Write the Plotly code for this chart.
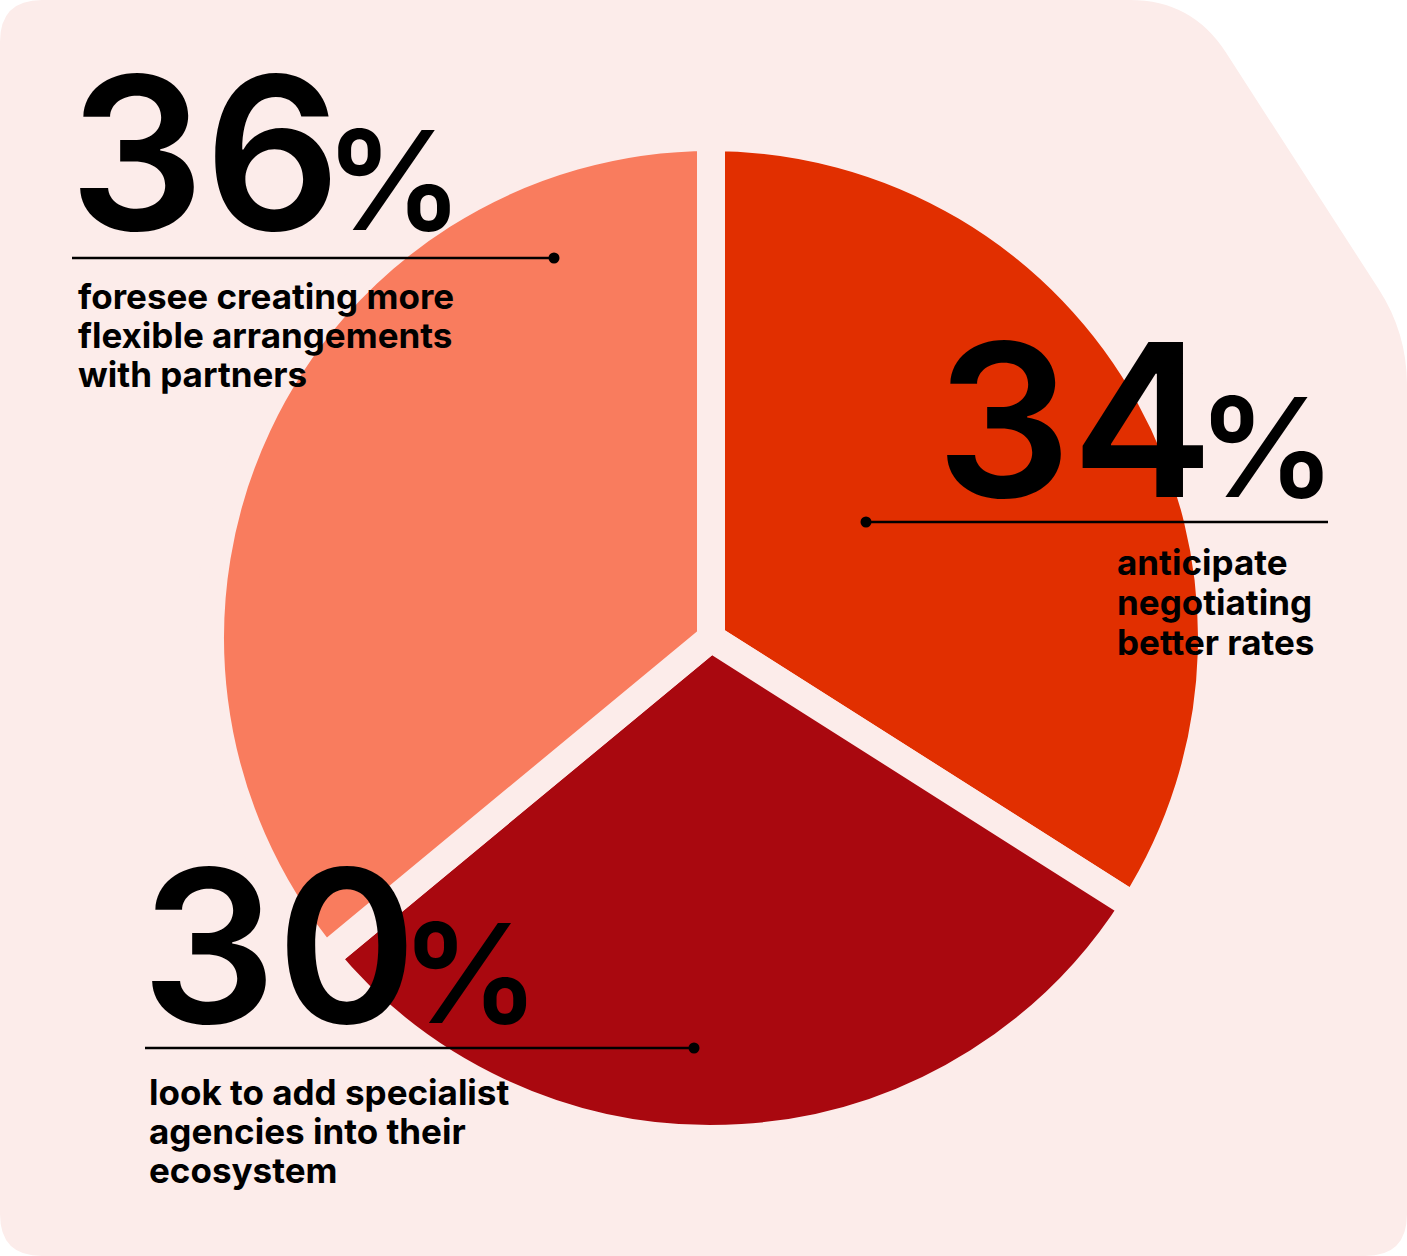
import plotly.graph_objects as go

W, H = 1407, 1256

# Shares, listed in the order the slices run clockwise from 12 o'clock
labels = ["negotiating better rates", "specialist agencies", "flexible arrangements"]
values = [34, 30, 36]
colors = ["#E12F00", "#A9080F", "#F97C5E"]

# Caption lines shown under each percentage
descriptions = [
    ["anticipate", "negotiating", "better rates"],
    ["look to add specialist", "agencies into their", "ecosystem"],
    ["foresee creating more", "flexible arrangements", "with partners"],
]

BG = "#FCECEA"
FONT = "Inter"

# Callout placement in pixels: number left edge / baseline, leader line, caption
callouts = [
    dict(nx=936, nbase=497, ly=522, lx0=866, lx1=1328, dot="left", tx=1117, tbase=[575, 615, 655]),
    dict(nx=141, nbase=1023, ly=1048, lx0=145, lx1=694, dot="right", tx=149, tbase=[1105, 1144, 1183]),
    dict(nx=69, nbase=230, ly=258, lx0=72, lx1=554, dot="right", tx=78, tbase=[309, 348, 387]),
]


def px(x):
    return x / W


def py(y):
    return 1 - y / H


# Pie geometry (pixels)
cx, cy, r = 711, 638, 501
gap = 28

fig = go.Figure()
fig.add_trace(go.Pie(
    labels=labels,
    values=values,
    sort=False,
    direction="clockwise",
    rotation=0,
    marker=dict(colors=colors, line=dict(color=BG, width=gap)),
    textinfo="none",
    hoverinfo="label+percent",
    domain=dict(x=[px(cx - r), px(cx + r)], y=[py(cy + r), py(cy - r)]),
    showlegend=False,
))


# Card background: rounded panel with a clipped top-right corner
def rounded_path(pts, radii):
    n = len(pts)

    def toward(a, b, dist):
        dx, dy = b[0] - a[0], b[1] - a[1]
        L = (dx * dx + dy * dy) ** 0.5
        return (a[0] + dx / L * dist, a[1] + dy / L * dist)

    segs = []
    for i in range(n):
        p0, p1, p2 = pts[i - 1], pts[i], pts[(i + 1) % n]
        segs.append((toward(p1, p0, radii[i]), p1, toward(p1, p2, radii[i])))
    path = f"M {px(segs[0][0][0])},{py(segs[0][0][1])} "
    for i, (a, c, b) in enumerate(segs):
        if i > 0:
            path += f"L {px(a[0])},{py(a[1])} "
        path += f"Q {px(c[0])},{py(c[1])} {px(b[0])},{py(b[1])} "
    return path + "Z"


panel = [(0, 0), (1192, 0), (1407, 333), (1407, H), (0, H)]
panel_r = [42, 62, 52, 42, 42]
shapes = [dict(type="path", xref="paper", yref="paper", path=rounded_path(panel, panel_r),
               fillcolor=BG, line=dict(width=0), layer="below")]

annotations = []
NUM_SIZE = 213
PCT_SIZE = 138
DESC_SIZE = 35
for v, desc, c in zip(values, descriptions, callouts):
    # big figure with a smaller, tightly kerned percent sign on the same baseline
    s = str(v)
    big = (f"{s[:-1]}<span style='letter-spacing:-16px'>{s[-1]}</span>"
           f"<span style='font-size:{PCT_SIZE}px'>%</span>")
    annotations.append(dict(
        x=px(c["nx"]), y=py(c["nbase"] - 0.364 * NUM_SIZE), xref="paper", yref="paper",
        xanchor="left", yanchor="middle", showarrow=False, borderpad=0, borderwidth=0,
        text=big, font=dict(family=FONT, size=NUM_SIZE, color="#000000", weight=600),
    ))
    # leader line with a dot at one end
    shapes.append(dict(type="line", xref="paper", yref="paper",
                       x0=px(c["lx0"]), x1=px(c["lx1"]), y0=py(c["ly"]), y1=py(c["ly"]),
                       line=dict(color="#000000", width=2.5), layer="above"))
    dx = c["lx0"] if c["dot"] == "left" else c["lx1"]
    shapes.append(dict(type="circle", xref="paper", yref="paper",
                       x0=px(dx - 5.5), x1=px(dx + 5.5), y0=py(c["ly"] + 5.5), y1=py(c["ly"] - 5.5),
                       fillcolor="#000000", line=dict(width=0), layer="above"))
    # caption, one line per annotation for tight leading
    for line, base in zip(desc, c["tbase"]):
        annotations.append(dict(
            x=px(c["tx"]), y=py(base - 0.364 * DESC_SIZE), xref="paper", yref="paper",
            xanchor="left", yanchor="middle", showarrow=False, borderpad=0, borderwidth=0,
            text=line, font=dict(family=FONT, size=DESC_SIZE, color="#000000", weight=700),
        ))

fig.update_layout(
    width=W, height=H,
    margin=dict(l=0, r=0, t=0, b=0),
    paper_bgcolor="#FFFFFF",
    plot_bgcolor="#FFFFFF",
    showlegend=False,
    shapes=shapes,
    annotations=annotations,
)

fig.write_html("out.html")
